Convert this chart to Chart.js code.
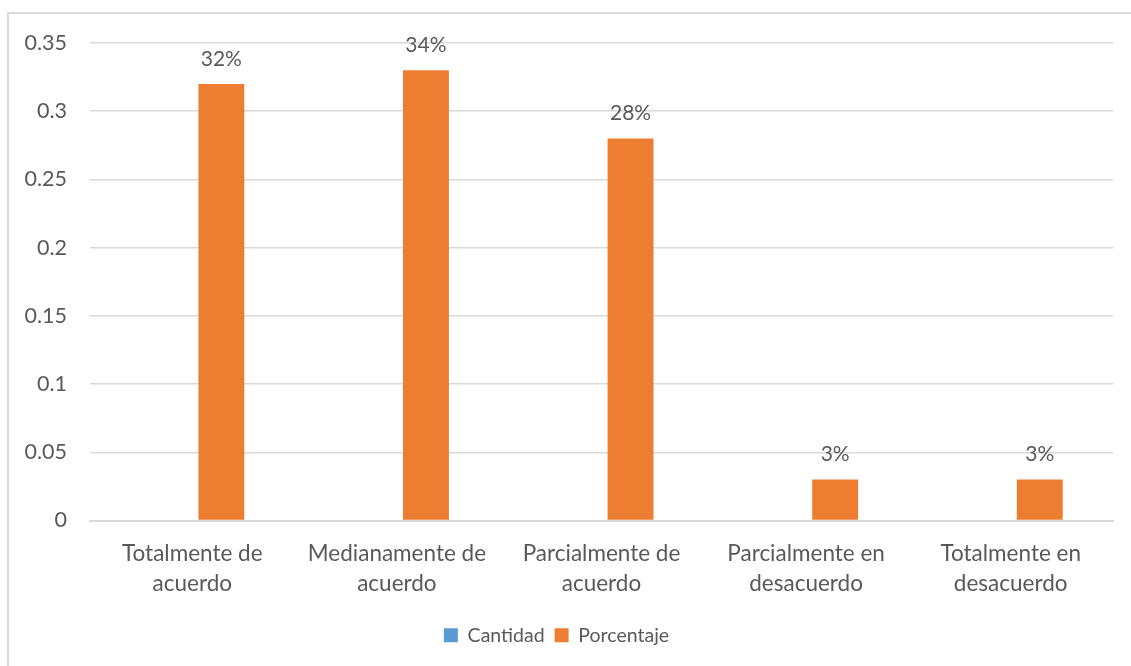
<!DOCTYPE html>
<html>
<head>
<meta charset="utf-8">
<script src="https://cdn.jsdelivr.net/npm/chart.js@4.4.0/dist/chart.umd.min.js"></script>
<style>
    body { margin: 0; background: #fff; }
    #wrap { position: relative; width: 1131px; height: 666px; overflow: hidden; }
    #frame { position: absolute; left: 7px; top: 12px; right: -5px; bottom: -5px; border-top: 2px solid #d9d9d9; border-left: 2px solid #d9d9d9; }
    canvas { position: absolute; left: 0; top: 0; }
</style>
</head>
<body>
<div id="wrap">
    <div id="frame"></div>
    <canvas id="chart" width="1131" height="666"></canvas>
</div>
<script>
const categories = [
    ["Totalmente de", "acuerdo"],
    ["Medianamente de", "acuerdo"],
    ["Parcialmente de", "acuerdo"],
    ["Parcialmente en", "desacuerdo"],
    ["Totalmente en", "desacuerdo"]
]
const cantidad = [null, null, null, null, null]
const porcentaje = [0.32, 0.33, 0.28, 0.03, 0.03]
const porcentajeLabels = ["32%", "34%", "28%", "3%", "3%"]

const FONT = "Lato, 'Liberation Sans', sans-serif"
const GREY = "#595959"

// etiquetas encima de las barras naranjas
const barLabels = {
    id: 'barLabels',
    afterDatasetsDraw(chart) {
        const ctx = chart.ctx
        const meta = chart.getDatasetMeta(1)
        ctx.save()
        ctx.font = "21px " + FONT
        ctx.fillStyle = GREY
        ctx.textAlign = "center"
        ctx.textBaseline = "middle"
        meta.data.forEach((bar, i) => {
            ctx.fillText(porcentajeLabels[i], bar.x, bar.y - 25)
        })
        ctx.restore()
    }
}

new Chart(document.getElementById("chart").getContext("2d"), {
    type: 'bar',
    data: {
        labels: categories,
        datasets: [
            {
                label: 'Cantidad',
                data: cantidad,
                backgroundColor: '#5B9BD5',
                categoryPercentage: 0.568,
                barPercentage: 0.79
            },
            {
                label: 'Porcentaje',
                data: porcentaje,
                backgroundColor: '#ED7D31',
                categoryPercentage: 0.568,
                barPercentage: 0.79
            }
        ]
    },
    options: {
        responsive: false,
        animation: false,
        layout: { padding: { top: 43, right: 18, bottom: 11, left: 0 } },
        plugins: {
            tooltip: { enabled: false },
            legend: {
                position: 'bottom',
                labels: {
                    font: { size: 19.5, family: FONT },
                    color: GREY,
                    boxWidth: 14,
                    boxHeight: 14,
                    padding: 10
                }
            }
        },
        scales: {
            x: {
                grid: { display: false, drawTicks: false },
                border: { color: '#d9d9d9', width: 2 },
                ticks: {
                    font: { size: 22.5, family: FONT, lineHeight: 1.3 },
                    color: GREY,
                    padding: 19,
                    maxRotation: 0,
                    autoSkip: false
                },
                afterFit: scale => { scale.height = 95 }
            },
            y: {
                min: 0,
                max: 0.35,
                grid: { color: '#d9d9d9', lineWidth: 1.5, drawTicks: false },
                border: { display: false },
                ticks: {
                    stepSize: 0.05,
                    font: { size: 21.5, family: FONT },
                    color: GREY,
                    padding: 23,
                    callback: v => Math.round(v * 100) / 100
                },
                afterFit: scale => { scale.width = 90 }
            }
        }
    },
    plugins: [barLabels]
})
</script>
</body>
</html>
